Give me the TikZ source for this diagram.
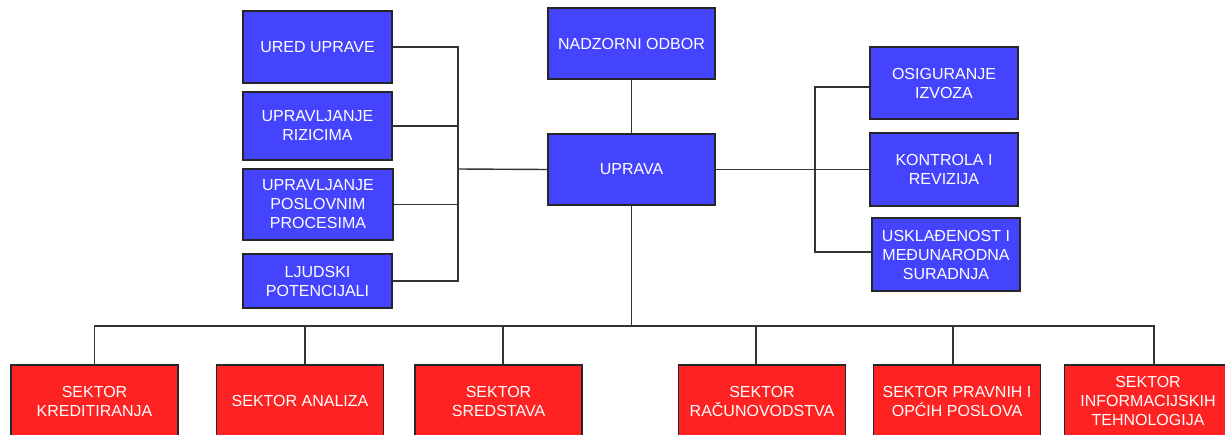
\documentclass[tikz,border=0pt]{standalone}
\usepackage{fontspec}
\setmainfont{Liberation Sans}
\usetikzlibrary{positioning}
\definecolor{unitblue}{RGB}{68,68,255}
\definecolor{sectorred}{RGB}{255,34,34}
\tikzstyle{unit} = [rectangle, text centered, align=center, draw=black!85, line width=1.2pt, fill=unitblue, text=white, minimum width=149pt, minimum height=71pt, inner sep=2pt, font=\fontsize{16}{19}\selectfont]
\tikzstyle{sector} = [rectangle, text centered, align=center, draw=black!85, line width=1.2pt, fill=sectorred, text=white, minimum width=167pt, minimum height=72pt, inner sep=2pt, font=\fontsize{16}{19}\selectfont]
\tikzstyle{line} = [line width=1.4pt, draw=black!80]
\begin{document}
\begin{tikzpicture}[x=1pt, y=-1pt, node distance=79pt]
\useasboundingbox (0,0) rectangle (1225,434);
\clip (0,0) rectangle (1225,434);

\node (uprava) [unit, minimum width=167pt] at (631.5,169.5) {UPRAVA};
\node (nadzor) [unit, minimum width=167pt, above of=uprava, node distance=126pt] {NADZORNI ODBOR};

\node (ured) [unit, minimum height=72pt] at (317.5,47) {URED UPRAVE};
\node (rizik) [unit, minimum height=68pt, below of=ured] {UPRAVLJANJE\\RIZICIMA};
\node (procesi) [unit, minimum width=150pt, below of=rizik, node distance=78.5pt, xshift=0.5pt] {UPRAVLJANJE\\POSLOVNIM\\PROCESIMA};
\node (ljudi) [unit, minimum height=54pt, below of=procesi, node distance=76.5pt, xshift=-0.5pt] {LJUDSKI\\POTENCIJALI};

\node (osig) [unit, minimum width=148pt, minimum height=72pt] at (944,83) {OSIGURANJE\\IZVOZA};
\node (kontrola) [unit, minimum width=148pt, minimum height=73pt, below of=osig, node distance=86.5pt] {KONTROLA I\\REVIZIJA};
\node (usklad) [unit, minimum width=148pt, minimum height=73pt, below of=kontrola, node distance=85pt, xshift=2pt] {USKLAĐENOST I\\MEĐUNARODNA\\SURADNJA};

\node (kred) [sector] at (94.5,401) {SEKTOR\\KREDITIRANJA};
\node (analiza) [sector, right of=kred, node distance=205.5pt] {SEKTOR ANALIZA};
\node (sredstva) [sector, right of=analiza, node distance=198.5pt] {SEKTOR\\SREDSTAVA};
\node (racun) [sector, right of=sredstva, node distance=263.5pt] {SEKTOR\\RAČUNOVODSTVA};
\node (pravni) [sector, right of=racun, node distance=195pt] {SEKTOR PRAVNIH I\\OPĆIH POSLOVA};
\node (it) [sector, right of=pravni, node distance=191pt] {SEKTOR\\INFORMACIJSKIH\\TEHNOLOGIJA};

\coordinate (lbus) at (458,169);
\coordinate (rbus) at (815,169);
\coordinate (bbus) at (631.5,326);

\draw [line] (nadzor) -- (uprava);
\draw [line] (ured.east) -| (lbus);
\draw [line] (ljudi.east) -| (lbus);
\draw [line] (rizik.east) -- (rizik.east -| lbus);
\draw [line] (procesi.east) -- (procesi.east -| lbus);
\draw [line] (lbus) -- (uprava.west);

\draw [line] (uprava.east) -- (kontrola.west);
\draw [line] ([yshift=-4pt]osig.west) -| (rbus);
\draw [line] ([yshift=2.5pt]usklad.west) -| (rbus);

\draw [line] (uprava.south) -- (bbus);
\draw [line] (kred.north) |- (bbus);
\draw [line] ([xshift=6pt]it.north) |- (bbus);
\draw [line] ([xshift=5pt]analiza.north) -- ([xshift=5pt]analiza.north |- bbus);
\draw [line] ([xshift=4.5pt]sredstva.north) -- ([xshift=4.5pt]sredstva.north |- bbus);
\draw [line] ([xshift=-6pt]racun.north) -- ([xshift=-6pt]racun.north |- bbus);
\draw [line] ([xshift=-4pt]pravni.north) -- ([xshift=-4pt]pravni.north |- bbus);

\end{tikzpicture}
\end{document}
